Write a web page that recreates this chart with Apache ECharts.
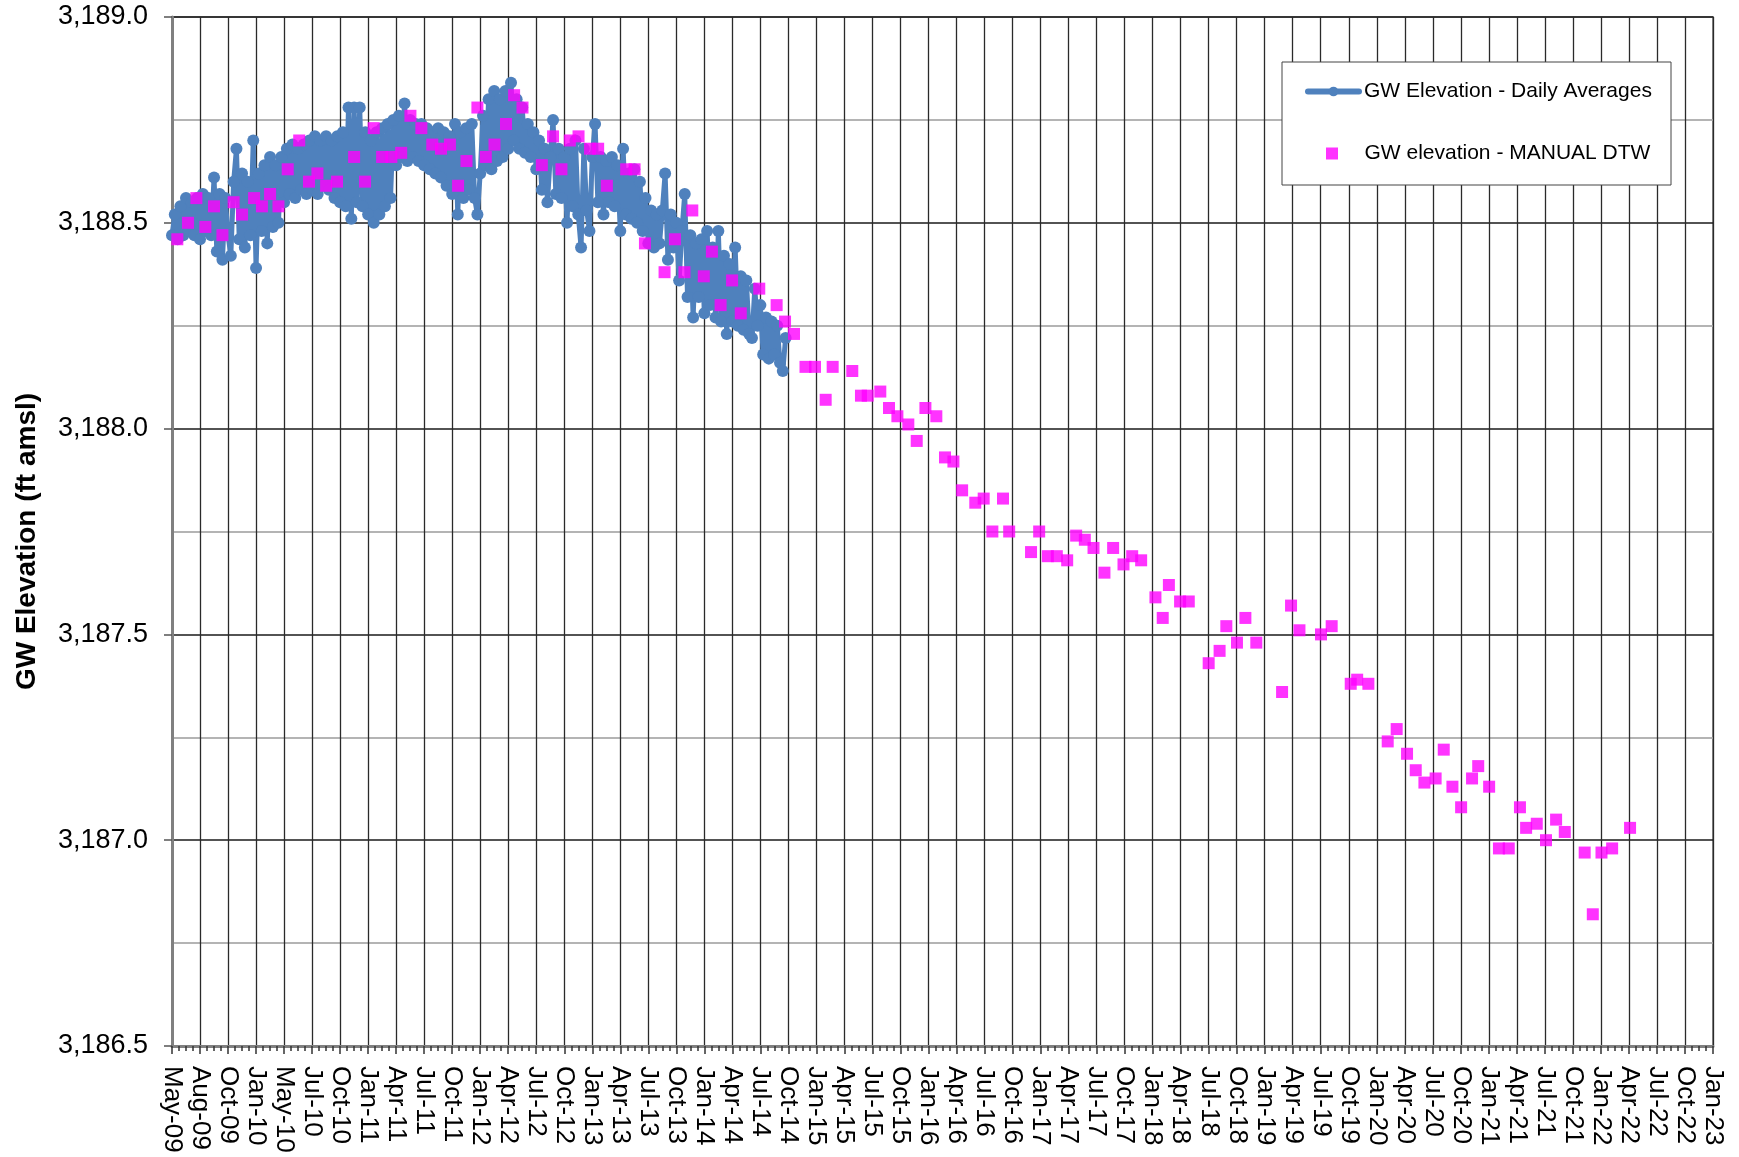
<!DOCTYPE html>
<html>
<head>
<meta charset="utf-8">
<title>GW Elevation</title>
<script src="https://cdn.jsdelivr.net/npm/echarts@6/dist/echarts.min.js"></script>
<style>
  html, body { margin: 0; padding: 0; background: #fff; }
  #chart { width: 1739px; height: 1157px; }
</style>
</head>
<body>
<div id="chart"></div>
<script>
// x is measured in label steps: 0 = May-09, 1 = Aug-09 ... 55 = Jan-23
const xLabels = [
  'May-09', 'Aug-09', 'Oct-09', 'Jan-10', 'May-10', 'Jul-10', 'Oct-10',
  'Jan-11', 'Apr-11', 'Jul-11', 'Oct-11', 'Jan-12', 'Apr-12', 'Jul-12', 'Oct-12',
  'Jan-13', 'Apr-13', 'Jul-13', 'Oct-13', 'Jan-14', 'Apr-14', 'Jul-14', 'Oct-14',
  'Jan-15', 'Apr-15', 'Jul-15', 'Oct-15', 'Jan-16', 'Apr-16', 'Jul-16', 'Oct-16',
  'Jan-17', 'Apr-17', 'Jul-17', 'Oct-17', 'Jan-18', 'Apr-18', 'Jul-18', 'Oct-18',
  'Jan-19', 'Apr-19', 'Jul-19', 'Oct-19', 'Jan-20', 'Apr-20', 'Jul-20', 'Oct-20',
  'Jan-21', 'Apr-21', 'Jul-21', 'Oct-21', 'Jan-22', 'Apr-22', 'Jul-22', 'Oct-22',
  'Jan-23'
];

const yMin = 3186.5;
const yMax = 3189.0;

// transducer record, one reading every 0.1 label step from May-09 (one row per step)
const dailyStart = 0;
const dailyStep = 0.1;
const dailyAverages = [
  3188.47, 3188.52, 3188.46, 3188.54, 3188.47, 3188.56, 3188.48, 3188.55, 3188.47, 3188.56,
  3188.46, 3188.57, 3188.48, 3188.56, 3188.47, 3188.61, 3188.43, 3188.57, 3188.41, 3188.56,
  3188.47, 3188.42, 3188.60, 3188.68, 3188.46, 3188.62, 3188.44, 3188.60, 3188.47, 3188.70,
  3188.39, 3188.62, 3188.48, 3188.64, 3188.45, 3188.66, 3188.49, 3188.64, 3188.50, 3188.66,
  3188.55, 3188.68, 3188.57, 3188.69, 3188.56, 3188.68, 3188.58, 3188.69, 3188.57, 3188.70,
  3188.58, 3188.71, 3188.57, 3188.70, 3188.59, 3188.71, 3188.58, 3188.70, 3188.56, 3188.71,
  3188.55, 3188.72, 3188.54, 3188.78, 3188.51, 3188.78, 3188.55, 3188.78, 3188.54, 3188.72,
  3188.52, 3188.70, 3188.50, 3188.72, 3188.52, 3188.73, 3188.54, 3188.74, 3188.56, 3188.75,
  3188.64, 3188.76, 3188.66, 3188.79, 3188.65, 3188.75, 3188.66, 3188.74, 3188.65, 3188.74,
  3188.64, 3188.73, 3188.63, 3188.72, 3188.62, 3188.73, 3188.61, 3188.72, 3188.59, 3188.71,
  3188.57, 3188.74, 3188.52, 3188.72, 3188.56, 3188.73, 3188.58, 3188.74, 3188.56, 3188.52,
  3188.62, 3188.76, 3188.64, 3188.80, 3188.63, 3188.82, 3188.65, 3188.80, 3188.66, 3188.82,
  3188.68, 3188.84, 3188.70, 3188.80, 3188.68, 3188.78, 3188.67, 3188.74, 3188.66, 3188.72,
  3188.63, 3188.70, 3188.58, 3188.68, 3188.55, 3188.66, 3188.75, 3188.57, 3188.68, 3188.56,
  3188.66, 3188.50, 3188.68, 3188.54, 3188.70, 3188.52, 3188.44, 3188.68, 3188.53, 3188.48,
  3188.66, 3188.74, 3188.55, 3188.66, 3188.52, 3188.65, 3188.55, 3188.66, 3188.54, 3188.64,
  3188.48, 3188.68, 3188.52, 3188.62, 3188.51, 3188.63, 3188.50, 3188.60, 3188.48, 3188.56,
  3188.45, 3188.53, 3188.44, 3188.52, 3188.45, 3188.53, 3188.62, 3188.41, 3188.52, 3188.44,
  3188.50, 3188.36, 3188.48, 3188.57, 3188.32, 3188.47, 3188.27, 3188.45, 3188.32, 3188.46,
  3188.28, 3188.48, 3188.30, 3188.44, 3188.27, 3188.48, 3188.26, 3188.42, 3188.23, 3188.40,
  3188.26, 3188.44, 3188.25, 3188.37, 3188.24, 3188.36, 3188.23, 3188.22, 3188.34, 3188.25,
  3188.30, 3188.18, 3188.27, 3188.17, 3188.26, 3188.18, 3188.25, 3188.16, 3188.14, 3188.22
];

// hand measurements: [x in label steps, elevation]
const manualDtw = [
  [0.19, 3188.46], [0.57, 3188.50], [0.87, 3188.56], [1.19, 3188.49], [1.50, 3188.54],
  [1.80, 3188.47], [2.20, 3188.55], [2.50, 3188.52], [2.93, 3188.56], [3.21, 3188.54],
  [3.50, 3188.57], [3.80, 3188.54], [4.13, 3188.63], [4.54, 3188.70], [4.89, 3188.60],
  [5.19, 3188.62], [5.50, 3188.59], [5.89, 3188.60], [6.50, 3188.66], [6.89, 3188.60],
  [7.20, 3188.73], [7.50, 3188.66], [7.83, 3188.66], [8.18, 3188.67], [8.51, 3188.76],
  [8.90, 3188.73], [9.29, 3188.69], [9.60, 3188.68], [9.92, 3188.69], [10.21, 3188.59],
  [10.51, 3188.65], [10.90, 3188.78], [11.20, 3188.66], [11.51, 3188.69], [11.92, 3188.74],
  [12.21, 3188.81], [12.51, 3188.78], [13.20, 3188.64], [13.60, 3188.71], [13.90, 3188.63],
  [14.20, 3188.70], [14.51, 3188.71], [14.92, 3188.68], [15.21, 3188.68], [15.52, 3188.59],
  [16.21, 3188.63], [16.51, 3188.63], [16.88, 3188.45], [17.58, 3188.38], [17.95, 3188.46],
  [18.29, 3188.38], [18.57, 3188.53], [18.98, 3188.37], [19.27, 3188.43], [19.58, 3188.30],
  [19.99, 3188.36], [20.30, 3188.28], [20.96, 3188.34], [21.58, 3188.30], [21.88, 3188.26],
  [22.20, 3188.23], [22.61, 3188.15], [22.95, 3188.15], [23.33, 3188.07], [23.58, 3188.15],
  [24.28, 3188.14], [24.59, 3188.08], [24.83, 3188.08], [25.28, 3188.09], [25.59, 3188.05],
  [25.89, 3188.03], [26.28, 3188.01], [26.58, 3187.97], [26.89, 3188.05], [27.28, 3188.03],
  [27.59, 3187.93], [27.89, 3187.92], [28.20, 3187.85], [28.67, 3187.82], [28.97, 3187.83],
  [29.28, 3187.75], [29.66, 3187.83], [29.88, 3187.75], [30.66, 3187.70], [30.95, 3187.75],
  [31.26, 3187.69], [31.58, 3187.69], [31.95, 3187.68], [32.27, 3187.74], [32.58, 3187.73],
  [32.89, 3187.71], [33.28, 3187.65], [33.59, 3187.71], [33.96, 3187.67], [34.27, 3187.69],
  [34.59, 3187.68], [35.10, 3187.59], [35.36, 3187.54], [35.58, 3187.62], [35.98, 3187.58],
  [36.29, 3187.58], [37.00, 3187.43], [37.39, 3187.46], [37.63, 3187.52], [38.01, 3187.48],
  [38.31, 3187.54], [38.70, 3187.48], [39.62, 3187.36], [39.94, 3187.57], [40.24, 3187.51],
  [41.01, 3187.50], [41.39, 3187.52], [42.07, 3187.38], [42.30, 3187.39], [42.70, 3187.38],
  [43.39, 3187.24], [43.71, 3187.27], [44.08, 3187.21], [44.39, 3187.17], [44.70, 3187.14],
  [45.10, 3187.15], [45.39, 3187.22], [45.70, 3187.13], [46.01, 3187.08], [46.40, 3187.15],
  [46.62, 3187.18], [47.01, 3187.13], [47.36, 3186.98], [47.71, 3186.98], [48.11, 3187.08],
  [48.33, 3187.03], [48.71, 3187.04], [49.04, 3187.00], [49.40, 3187.05], [49.71, 3187.02],
  [50.42, 3186.97], [50.71, 3186.82], [51.02, 3186.97], [51.40, 3186.98], [52.04, 3187.03]
];

const dailyName = 'GW Elevation - Daily Averages';
const manualName = 'GW elevation - MANUAL DTW';
const font = '"Liberation Sans", Arial, sans-serif';
const blue = '#4F81BD';
const magenta = '#FF00FF';

const dailyPoints = dailyAverages.map((v, i) => [dailyStart + i * dailyStep, v]);

const chart = echarts.init(document.getElementById('chart'));

chart.setOption({
  animation: false,
  backgroundColor: '#fff',
  textStyle: { fontFamily: font },
  grid: {
    left: 172,
    right: 26,
    top: 17,
    bottom: 111,
    show: true,
    borderColor: '#8a8a8a',
    borderWidth: 2
  },
  xAxis: {
    type: 'value',
    min: 0,
    max: xLabels.length - 1,
    interval: 1,
    axisLine: { show: true, lineStyle: { color: '#808080', width: 3 } },
    axisTick: { show: true, inside: false, length: 8, lineStyle: { color: '#333', width: 1.5 } },
    minorTick: { show: true, splitNumber: 4, length: 5, lineStyle: { color: '#333', width: 1.5 } },
    splitLine: { show: true, lineStyle: { color: '#2a2a2a', width: 1.3 } },
    axisLabel: {
      rotate: -90,
      margin: 20,
      fontSize: 26,
      color: '#000',
      fontFamily: font,
      formatter: (v) => xLabels[Math.round(v)] || ''
    }
  },
  yAxis: {
    type: 'value',
    min: yMin,
    max: yMax,
    interval: 0.5,
    name: 'GW Elevation (ft amsl)',
    nameLocation: 'middle',
    nameGap: 131,
    nameTextStyle: {
      fontSize: 28,
      fontWeight: 'bold',
      color: '#000',
      fontFamily: font,
      padding: [0, 20, 0, 0]
    },
    axisLine: { show: true, lineStyle: { color: '#808080', width: 3 } },
    axisTick: { show: true, inside: false, length: 8, lineStyle: { color: '#555', width: 1.5 } },
    minorTick: { show: false, splitNumber: 2 },
    minorSplitLine: { show: true, lineStyle: { color: '#b4b4b4', width: 2 } },
    splitLine: { show: true, lineStyle: { color: '#1a1a1a', width: 1.5 } },
    axisLabel: {
      margin: 24,
      fontSize: 27,
      color: '#000',
      fontFamily: font,
      formatter: (v) => v.toLocaleString('en-US', { minimumFractionDigits: 1, maximumFractionDigits: 1 })
    }
  },
  graphic: [
    {
      type: 'rect',
      z: 5,
      shape: { x: 1282, y: 62, width: 389, height: 123 },
      style: { fill: '#fff', stroke: '#444', lineWidth: 1 }
    }
  ],
  legend: [
    {
      z: 10,
      data: [dailyName],
      left: 1305,
      top: 81,
      padding: 0,
      itemWidth: 51,
      itemHeight: 12,
      lineStyle: { width: 6, cap: 'round' },
      textStyle: { fontSize: 21, color: '#000', fontFamily: font }
    },
    {
      z: 10,
      data: [{ name: manualName, icon: 'path://M0,0 L10,0 L10,10 L0,10 Z' }],
      left: 1326,
      top: 143,
      padding: 0,
      itemWidth: 55,
      itemHeight: 12,
      symbolKeepAspect: true,
      textStyle: { fontSize: 21, color: '#000', fontFamily: font }
    }
  ],
  series: [
    {
      name: dailyName,
      type: 'line',
      data: dailyPoints,
      symbol: 'circle',
      symbolSize: 12,
      showAllSymbol: true,
      itemStyle: { color: blue },
      lineStyle: { color: blue, width: 5 },
      z: 3
    },
    {
      name: manualName,
      type: 'scatter',
      data: manualDtw,
      symbol: 'rect',
      symbolSize: 12,
      itemStyle: { color: magenta },
      z: 4
    }
  ]
});
</script>
</body>
</html>
